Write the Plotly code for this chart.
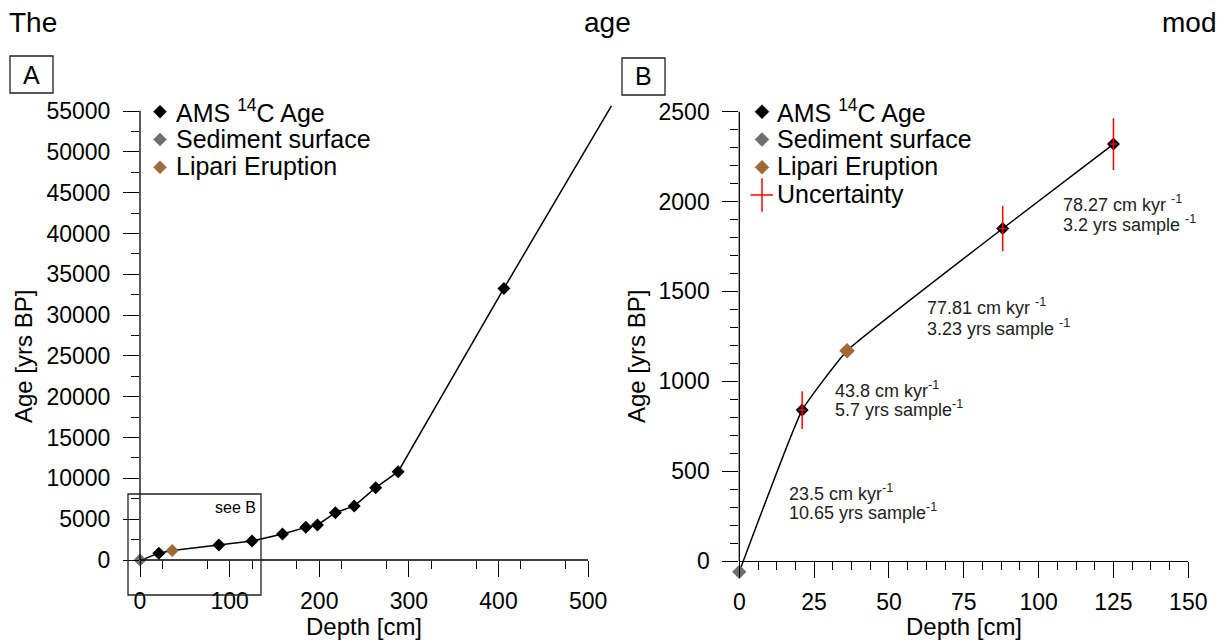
import plotly.graph_objects as go

W, H = 1225, 644

# ---------------- data ----------------
surface_depth = [0]
surface_age = [-60]
lipari_depth = [36]
lipari_age = [1170]
ams_depth = [21, 88, 125, 159, 185, 198, 218, 239, 263, 288, 406]
ams_age = [840, 1850, 2320, 3190, 4000, 4290, 5800, 6620, 8860, 10820, 33280]
ams_err_age = [105, 127, 144]   # uncertainty of first three AMS dates (panel B)
ams_err_depth = [1.2, 1.2, 1.2]
model_depth = [0, 21, 36, 88, 125, 159, 185, 198, 218, 239, 263, 288, 406, 526]
model_age = [-60, 840, 1170, 1850, 2320, 3190, 4000, 4290, 5800, 6620, 8860, 10820, 33280, 55650]

xticks_a = [0, 100, 200, 300, 400, 500]
yticks_a = list(range(0, 55001, 5000))
xticks_b = [0, 25, 50, 75, 100, 125, 150]
yticks_b = [0, 500, 1000, 1500, 2000, 2500]

legend_names = ["AMS <sup>14</sup>C Age", "Sediment surface", "Lipari Eruption", "Uncertainty"]

rate_labels = [
    ("78.27 cm kyr <sup>-1</sup>", "3.2 yrs sample <sup>-1</sup>"),
    ("77.81 cm kyr <sup>-1</sup>", "3.23 yrs sample <sup>-1</sup>"),
    ("43.8 cm kyr<sup>-1</sup>", "5.7 yrs sample<sup>-1</sup>"),
    ("23.5 cm kyr<sup>-1</sup>", "10.65 yrs sample<sup>-1</sup>"),
]

BLACK = "#000000"
GREY = "#6f6f6f"
BROWN = "#a06a38"
RED = "#ff0000"
FONT = "Liberation Sans, Arial, sans-serif"
SYMBOL_COLORS = [BLACK, GREY, BROWN]


def px(x):
    return x / W


def py(y):
    return 1 - y / H


fig = go.Figure()

# ---------------- panel A ----------------
fig.add_trace(go.Scatter(x=model_depth, y=model_age, mode="lines",
                         line=dict(color=BLACK, width=1.5), showlegend=False,
                         xaxis="x", yaxis="y"))
fig.add_trace(go.Scatter(x=ams_depth, y=ams_age, mode="markers", name=legend_names[0],
                         marker=dict(symbol="diamond", size=10, color=BLACK),
                         cliponaxis=False, xaxis="x", yaxis="y", showlegend=False))
fig.add_trace(go.Scatter(x=surface_depth, y=[max(a, 0) for a in surface_age], mode="markers",
                         name=legend_names[1],
                         marker=dict(symbol="diamond", size=10, color=GREY),
                         cliponaxis=False, xaxis="x", yaxis="y", showlegend=False))
fig.add_trace(go.Scatter(x=lipari_depth, y=lipari_age, mode="markers", name=legend_names[2],
                         marker=dict(symbol="diamond", size=10, color=BROWN),
                         cliponaxis=False, xaxis="x", yaxis="y", showlegend=False))

# ---------------- panel B ----------------
nb = sum(1 for d in model_depth if d <= 150)
fig.add_trace(go.Scatter(x=model_depth[:nb], y=model_age[:nb], mode="lines",
                         line=dict(color=BLACK, width=1.5, shape="spline", smoothing=0.35),
                         showlegend=False, xaxis="x2", yaxis="y2"))
na = sum(1 for d in ams_depth if d <= 150)
fig.add_trace(go.Scatter(x=ams_depth[:na], y=ams_age[:na], mode="markers", name=legend_names[0],
                         marker=dict(symbol="diamond", size=10, color=BLACK),
                         cliponaxis=False, xaxis="x2", yaxis="y2", showlegend=False))
fig.add_trace(go.Scatter(x=surface_depth, y=surface_age, mode="markers", name=legend_names[1],
                         marker=dict(symbol="diamond", size=11, color=GREY),
                         cliponaxis=False, xaxis="x2", yaxis="y2", showlegend=False))
fig.add_trace(go.Scatter(x=lipari_depth, y=lipari_age, mode="markers", name=legend_names[2],
                         marker=dict(symbol="diamond", size=12, color=BROWN),
                         cliponaxis=False, xaxis="x2", yaxis="y2", showlegend=False))
fig.add_trace(go.Scatter(x=ams_depth[:na], y=ams_age[:na], mode="markers", name=legend_names[3],
                         marker=dict(size=1, color="rgba(0,0,0,0)"),
                         error_y=dict(type="data", array=ams_err_age, color=RED, thickness=1.5, width=0),
                         error_x=dict(type="data", array=ams_err_depth, color=RED, thickness=1.5, width=0),
                         showlegend=False, cliponaxis=False, xaxis="x2", yaxis="y2"))

tickfont = dict(family=FONT, size=23, color=BLACK)
common = dict(ticks="outside", ticklen=16, tickwidth=1.3, tickcolor=BLACK, tickformat="d",
              showgrid=False, zeroline=False, tickfont=tickfont, tickmode="array",
              automargin=False)

# panel B: y range reaches slightly below 0 so the sediment-surface marker is shown
B_YMIN = -75
b_bottom_px = 561 + (0 - B_YMIN) * (561 - 111.7) / 2500

fig.update_layout(
    template="none",
    width=W, height=H, autosize=False,
    margin=dict(l=0, r=0, t=0, b=0, pad=0, autoexpand=False),
    paper_bgcolor="white", plot_bgcolor="white",
    font=dict(family=FONT, color=BLACK),
    showlegend=False,
    xaxis=dict(domain=[px(140), px(615)], range=[0, 530], tickvals=xticks_a,
               showline=False, anchor="y", ticklabelstandoff=4,
               minor=dict(tickmode="array", tickvals=[v for v in range(25, 500, 50)],
                          ticklen=8, tickwidth=1.3, tickcolor=BLACK, ticks="outside"),
               **common),
    yaxis=dict(domain=[py(560), py(103)], range=[0, 56000], tickvals=yticks_a,
               showline=False, anchor="x", ticklabelstandoff=8,
               minor=dict(tickmode="array", tickvals=[v for v in range(2500, 55000, 5000)],
                          ticklen=8, tickwidth=1.3, tickcolor=BLACK, ticks="outside"),
               **common),
    xaxis2=dict(domain=[px(739.3), px(1188.3)], range=[0, 150], tickvals=xticks_b,
                showline=True, linecolor=BLACK, linewidth=1.3, anchor="free", position=py(561),
                ticklabelstandoff=4,
                minor=dict(dtick=6.25, tick0=0, ticklen=8, tickwidth=1.3, tickcolor=BLACK, ticks="outside"),
                **common),
    yaxis2=dict(domain=[py(b_bottom_px), py(111.7)], range=[B_YMIN, 2500], tickvals=yticks_b,
                showline=False, anchor="x2", ticklabelstandoff=8,
                minor=dict(tickmode="array", tickvals=[v for v in range(100, 2500, 100) if v % 500],
                           ticklen=8, tickwidth=1.3, tickcolor=BLACK, ticks="outside"),
                **common),
)

shapes = []
# axis lines drawn only over the ticked span
shapes.append(dict(type="line", xref="paper", yref="paper", x0=px(140), x1=px(588),
                   y0=py(560), y1=py(560), line=dict(color=BLACK, width=1.3)))
shapes.append(dict(type="line", xref="paper", yref="paper", x0=px(140), x1=px(140),
                   y0=py(560), y1=py(110.7), line=dict(color=BLACK, width=1.3)))
shapes.append(dict(type="line", xref="paper", yref="paper", x0=px(739.3), x1=px(739.3),
                   y0=py(561), y1=py(111.7), line=dict(color=BLACK, width=1.3)))
# "see B" frame
shapes.append(dict(type="rect", xref="paper", yref="paper", x0=px(128), x1=px(261),
                   y0=py(595), y1=py(494), line=dict(color="#222", width=1.3)))
# panel letter boxes
shapes.append(dict(type="rect", xref="paper", yref="paper", x0=px(10), x1=px(53),
                   y0=py(93), y1=py(56), line=dict(color="#222", width=1.3)))
shapes.append(dict(type="rect", xref="paper", yref="paper", x0=px(622), x1=px(665),
                   y0=py(95), y1=py(58), line=dict(color="#222", width=1.3)))

ann = []


def text(x, y, s, size, xanchor="center", yanchor="middle", angle=0, color=BLACK):
    ann.append(dict(x=px(x), y=py(y), xref="paper", yref="paper", text=s, showarrow=False,
                    xanchor=xanchor, yanchor=yanchor, textangle=angle,
                    font=dict(family=FONT, size=size, color=color)))


def diamond(cx, cy, half, color):
    pts = [(cx, cy - half), (cx + half, cy), (cx, cy + half), (cx - half, cy)]
    path = "M " + " L ".join(f"{px(a):.5f},{py(b):.5f}" for a, b in pts) + " Z"
    shapes.append(dict(type="path", xref="paper", yref="paper", path=path,
                       fillcolor=color, line=dict(color=color, width=0.5)))


# legends (manual, to match row spacing)
legend_a_rows = [111.7, 139.5, 167.3]
for name, yy, col in zip(legend_names[:3], legend_a_rows, SYMBOL_COLORS):
    diamond(160, yy, 6.5, col)
    text(174, yy - 1, name, 25, xanchor="left")

legend_b_rows = [111.7, 139.5, 167.3, 195]
for name, yy, col in zip(legend_names[:3], legend_b_rows[:3], SYMBOL_COLORS):
    diamond(762, yy, 7, col)
    text(775, yy - 1, name, 25, xanchor="left")
shapes.append(dict(type="line", xref="paper", yref="paper", x0=px(762), x1=px(762),
                   y0=py(211.7), y1=py(178.3), line=dict(color=RED, width=1.5)))
shapes.append(dict(type="line", xref="paper", yref="paper", x0=px(750.5), x1=px(773),
                   y0=py(195), y1=py(195), line=dict(color=RED, width=1.5)))
text(775, legend_b_rows[3] - 1, legend_names[3], 25, xanchor="left")

text(7, 22, "The", 28, xanchor="left")
text(607, 22, "age", 28)
text(1218, 22, "mod", 28, xanchor="right")
text(31.5, 74.5, "A", 25)
text(643.5, 76.5, "B", 25)
text(364, 626, "Depth [cm]", 24)
text(963.8, 626, "Depth [cm]", 24)
text(23, 357, "Age [yrs BP]", 24, angle=-90)
text(636, 357, "Age [yrs BP]", 24, angle=-90)
text(258, 507, "see B", 16, xanchor="right")

label_pos = [(1061, 203, 223), (925, 307, 327), (833, 389, 409), (787, 492, 512)]
for (l1, l2), (lx, y1, y2) in zip(rate_labels, label_pos):
    text(lx, y1, l1, 18, xanchor="left", color="#222")
    text(lx, y2, l2, 18, xanchor="left", color="#222")

fig.update_layout(shapes=shapes, annotations=ann)
fig.write_html("out.html", config={"responsive": False})
